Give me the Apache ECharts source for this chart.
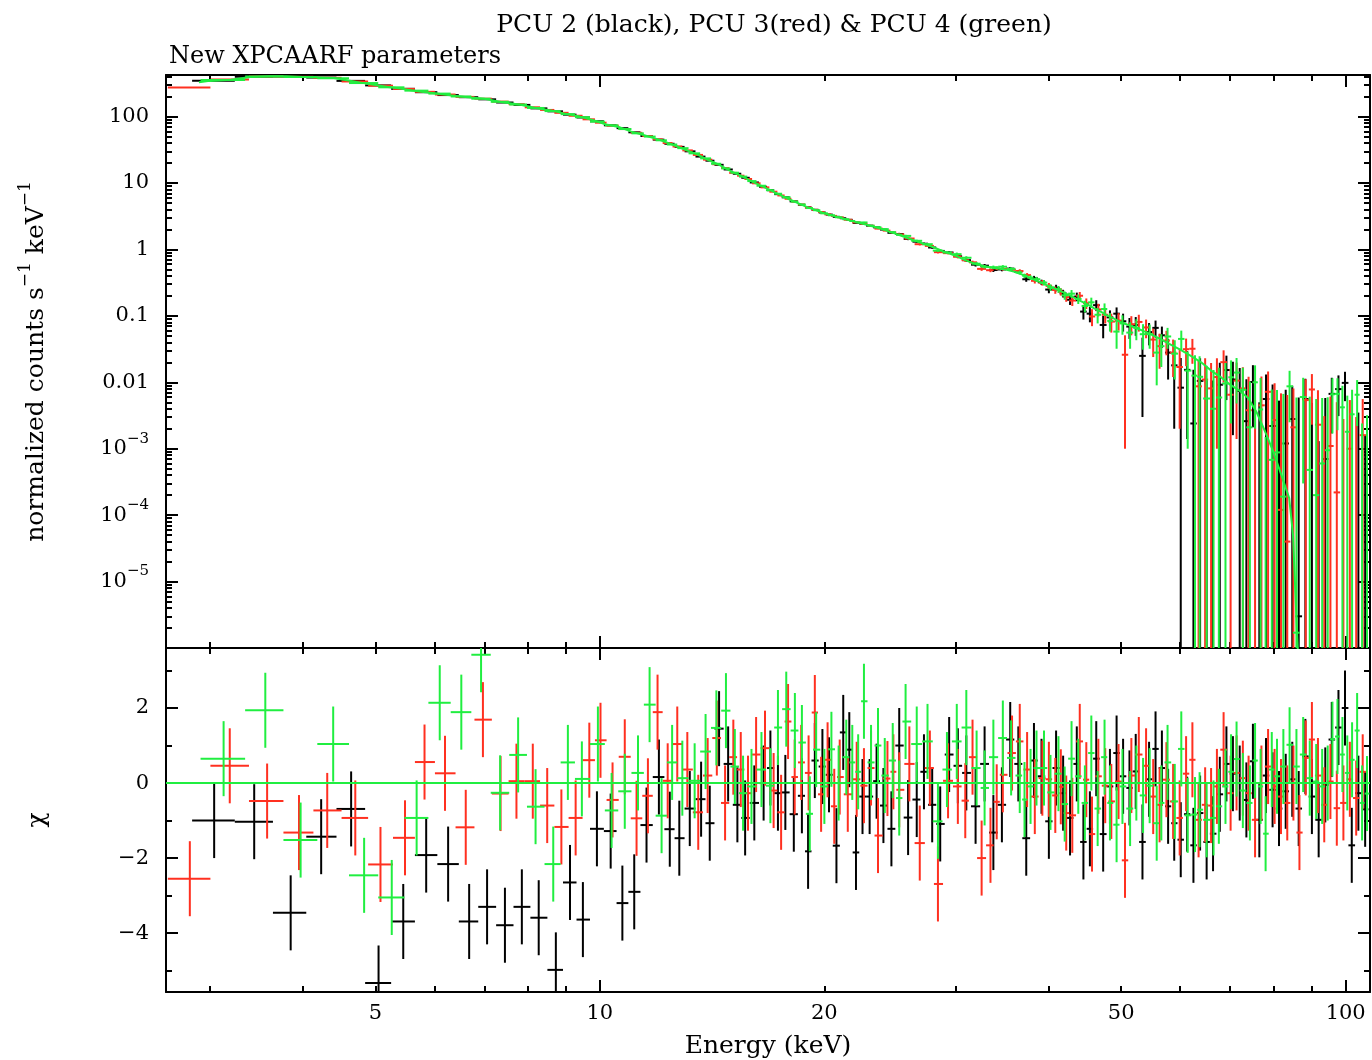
<!DOCTYPE html>
<html><head><meta charset="utf-8">
<script src="https://cdn.jsdelivr.net/npm/echarts@6.0.0/dist/echarts.min.js"></script>
<style>html,body{margin:0;padding:0;background:#fff}#chart{width:1372px;height:1060px}</style>
</head><body><div id="chart"></div>
<script>
// ---------------- DATA ----------------
// PCU 2 (black)
const energyBlack = [3.04,3.44,3.85,4.23,4.64,5.05,5.45,5.85,6.26,6.68,7.06,7.46,7.86,8.28,8.73,9.12,9.49,9.91,
10.34,10.72,11.12,11.55,12.0,12.41,12.78,13.2,13.67,14.04,14.45,14.86,15.29,15.66,16.11,16.58,16.93,17.33,17.73,18.2,18.66,19.02,19.42,19.88,20.29,
20.76,21.2,21.6,22.05,22.5,23.0,23.5,24.0,24.6,25.2,25.9,26.6,27.2,27.9,28.6,29.4,30.2,31.0,31.9,32.8,33.7,34.6,35.5,36.4,37.3,
38.2,39.1,40.0,40.9,41.8,42.7,43.6,44.5,45.4,46.3,47.3,48.3,49.3,50.3,51.3,52.3,53.4,54.5,55.6,56.7,57.8,58.9,60.1,61.3,62.5,
63.8,65.1,66.4,67.8,69.2,70.6,72.1,73.6,75.1,76.6,78.2,79.8,81.4,83.1,84.8,86.5,88.3,90.1,92.0,93.9,95.8,97.8,99.8,101.9,104.0,106.2];
const countsBlack = [348,397,402,387,345,295,262,233,211,196,182,163,150,133,120,107,97,85,
74,67,58,51,45,39,35,30,25,21.7,18.8,16,13.8,12,10.2,8.8,7.8,6.8,6.1,5.3,4.7,4.3,3.95,3.6,3.35,
3.1,2.95,2.79,2.51,2.44,2.28,2.15,1.99,1.78,1.71,1.44,1.31,1.22,1.07,0.95,0.9,0.79,0.69,0.59,0.57,0.49,0.5,0.515,0.46,0.356,
0.37,0.321,0.249,0.264,0.218,0.175,0.195,0.116,0.108,0.145,0.073,0.095,0.108,0.083,0.069,0.073,0.025,0.057,0.066,0.051,0.028,0.018,0.0083,0.0154,0.0024,
0.0105,-0.0013,-0.0006,0.0092,0.0153,0.011,0.0074,0.0026,0.0101,-0.0028,0.0056,0.0022,-0.0015,0.0012,0.0028,0.000003,0.0056,-0.0006,-0.004,0.0007,0.0067,0.0079,0.0098,-0.0068,-0.0007,-0.0024];
const errBlack = [2.1,2.4,2.4,2.3,2.1,1.8,1.6,1.4,1.3,1.2,1.1,1.0,0.9,0.8,0.7,0.65,0.6,0.5,
0.6,0.55,0.47,0.41,0.36,0.31,0.28,0.24,0.2,0.17,0.15,0.13,0.17,0.14,0.12,0.11,0.09,0.08,0.07,0.064,0.056,0.052,0.047,0.043,0.05,
0.062,0.059,0.055,0.051,0.049,0.046,0.043,0.04,0.036,0.067,0.06,0.053,0.049,0.044,0.039,0.035,0.047,0.041,0.037,0.034,0.032,0.031,0.03,0.03,0.03,
0.03,0.03,0.03,0.03,0.029,0.029,0.029,0.028,0.028,0.027,0.027,0.026,0.026,0.025,0.024,0.023,0.022,0.021,0.019,0.018,0.017,0.016,0.015,0.014,0.013,
0.0125,0.012,0.0112,0.0105,0.0099,0.0094,0.009,0.0085,0.008,0.0078,0.0075,0.0071,0.0068,0.0065,0.0061,0.0059,0.0057,0.0055,0.0053,0.0051,0.005,0.0048,0.0046,0.0044,0.0042,0.004];
const chiBlack = [-1.0,-1.03,-3.46,-1.43,-0.69,-5.33,-3.69,-1.92,-2.16,-3.69,-3.3,-3.79,-3.3,-3.59,-4.98,-2.65,-3.64,-1.22,
-1.28,-3.2,-2.9,-1.12,0.16,-1.23,-1.47,-0.68,-0.43,-1.07,1.45,0.51,-0.58,-0.93,-0.53,0.0,0.4,-0.27,-0.25,-0.83,-0.34,-1.82,0.6,0.44,0.22,
-1.67,1.35,0.89,-1.85,-0.36,-0.36,0.05,-0.6,-1.22,1.0,-0.92,-0.44,0.3,-0.58,-1.09,0.76,0.46,0.27,-0.62,0.51,-1.32,-0.58,1.16,0.51,-1.47,
0.6,0.18,-1.02,0.4,-0.27,-0.93,0.51,-1.57,-1.22,0.65,-1.36,-0.09,0.8,0.18,-0.13,0.31,-1.57,0.1,0.91,0.4,-0.62,-1.07,-1.51,-0.83,-1.66,
-0.8,-1.57,-1.35,-0.3,0.51,0.25,0.0,-0.45,0.58,-0.98,0.2,-0.18,-0.68,-0.22,0.1,-0.68,0.71,-0.36,-0.98,-0.05,1.16,1.48,2.0,-1.66,-0.27,-0.7];

// PCU 3 (red)
const energyRed = [2.82,3.19,3.58,3.95,4.31,4.70,5.08,5.48,5.82,6.2,6.61,6.97,7.36,7.73,8.13,8.5,8.88,9.28,9.68,10.02,10.4,10.8,11.2,11.6,11.95,12.33,12.7,
13.1,13.55,13.95,14.35,14.72,15.1,15.45,15.8,16.2,16.65,17.1,17.5,17.88,18.25,18.62,19.05,19.42,19.8,20.2,20.62,
20.97,21.5,22.1,22.6,23.1,23.6,24.3,24.75,25.2,26.0,26.85,27.7,28.4,29.3,30.2,30.9,31.6,32.5,33.4,34.05,34.7,35.7,36.56,37.4,
38.3,39.2,40.0,40.8,41.5,42.2,43.0,44.0,44.9,45.7,46.6,47.6,48.5,49.6,50.6,51.6,52.8,54.0,55.2,56.3,57.5,58.7,59.9,61.1,62.3,
63.5,64.8,66.0,67.2,68.6,70.1,71.4,72.8,74.1,75.6,77.1,78.7,80.3,81.9,83.5,85.1,86.7,88.4,90.1,91.8,93.6,95.4,97.3,99.3,101.3,103.3,105.4];
const countsRed = [275,362,402,397,384,338,292,261,236,215,198,186,168,154,138,126,114,103,91,81,73,65,57,51,45.5,40,35.5,
31,26.5,22.5,19.2,16.8,14.2,12.9,11.5,9.9,8.6,7.4,6.5,5.8,5.25,4.75,4.27,3.95,3.66,3.38,3.2,
3.05,2.8,2.56,2.43,2.27,2.06,1.92,1.8,1.68,1.46,1.2,1.13,0.91,0.88,0.78,0.69,0.64,0.51,0.487,0.52,0.51,0.494,0.473,0.411,
0.337,0.316,0.283,0.245,0.231,0.192,0.17,0.201,0.155,0.098,0.125,0.104,0.082,0.085,0.026,0.075,0.081,0.067,0.044,0.035,0.0425,0.028,0.017,0.0315,0.032,
0.0087,0.011,0.0081,0.012,0.0201,0.0065,0.0106,0.0081,0.0038,-0.0026,0.0045,0.0072,0.0027,0.00012,0.00004,0.0021,-0.006,0.0054,0.0078,0.0023,-0.002,0.0011,0.00022,-0.0018,0.001,-0.0012,0.0016];
const errRed = [1.7,2.2,2.4,2.4,2.3,2.0,1.8,1.6,1.4,1.3,1.2,1.1,1.0,0.92,0.83,0.76,0.68,0.62,0.55,0.5,0.58,0.52,0.46,0.41,0.36,0.32,0.28,
0.25,0.21,0.18,0.15,0.13,0.17,0.15,0.14,0.12,0.1,0.09,0.08,0.07,0.063,0.057,0.051,0.047,0.044,0.041,0.064,
0.061,0.056,0.051,0.049,0.045,0.042,0.038,0.036,0.067,0.058,0.051,0.045,0.039,0.035,0.047,0.041,0.038,0.034,0.032,0.031,0.03,0.03,0.03,0.03,
0.03,0.03,0.03,0.03,0.029,0.029,0.029,0.028,0.028,0.028,0.027,0.027,0.026,0.025,0.025,0.024,0.023,0.021,0.02,0.019,0.017,0.016,0.015,0.014,0.013,
0.0125,0.012,0.0115,0.011,0.0102,0.0095,0.0092,0.0088,0.0083,0.008,0.0077,0.0074,0.007,0.0067,0.0064,0.006,0.0059,0.0057,0.0055,0.0053,0.0051,0.005,0.0048,0.0046,0.0044,0.0042,0.004];
const chiRed = [-2.55,0.46,-0.48,-1.32,-0.73,-0.93,-2.17,-1.46,0.56,0.26,-1.18,1.69,-0.28,0.05,0.05,-0.6,-1.17,-0.93,0.61,1.14,-0.45,0.7,-0.94,-0.34,1.89,0.06,1.04,
0.36,-0.78,0.2,1.2,-0.53,0.69,0.36,-0.27,0.76,0.93,-0.2,-0.78,1.64,0.16,0.55,0.27,1.88,-0.3,0.62,-0.62,
0.16,-0.3,0.1,-0.07,0.4,-1.4,0.12,0.3,-0.18,0.51,-1.6,0.4,-2.69,0.06,-0.09,-0.47,0.69,-2.0,-1.66,-0.5,0.22,0.8,1.11,0.36,
-0.36,0.13,0.1,-0.33,-0.1,-0.8,-0.86,1.11,0.09,-1.36,0.18,-0.07,-0.49,0.04,-2.06,0.2,0.76,0.46,-0.36,-0.58,0.09,-0.49,-0.93,0.25,0.62,
-0.98,-0.58,-0.6,-0.09,0.89,-0.27,0.27,0.13,-0.27,-0.98,0.0,0.44,-0.09,-0.36,-0.53,0.0,-1.32,0.67,1.16,0.2,-0.58,0.04,-0.67,-0.53,0.1,-0.4,0.3];

// PCU 4 (green)
const energyGreen = [3.13,3.56,3.97,4.39,4.83,5.26,5.68,6.1,6.52,6.93,7.35,7.77,8.2,8.66,9.06,9.46,9.94,10.37,10.8,11.25,11.66,12.1,12.5,12.9,
13.4,13.86,14.33,14.76,15.17,15.56,15.97,16.47,16.93,17.33,17.78,18.26,18.66,19.12,19.5,20.0,20.44,
20.9,21.4,21.8,22.2,22.6,23.1,23.6,24.1,24.7,25.2,25.7,26.6,27.5,28.4,29.2,30.1,31.0,32.0,32.8,33.7,34.7,35.6,36.56,
37.1,37.8,38.5,39.4,40.2,41.2,42.0,42.9,43.8,44.7,45.6,46.5,47.5,48.3,49.3,50.2,51.4,52.4,53.5,54.6,55.8,56.6,57.7,59.0,60.2,61.4,62.8,
63.7,65.1,66.5,67.6,69.0,70.2,71.4,72.8,74.4,75.6,76.9,78.1,79.6,80.9,82.5,84.1,85.9,87.7,89.5,91.3,93.0,94.6,96.0,97.5,99.0,100.5,102.0,103.6,105.2,106.8];
const countsGreen = [355,402,396,378,320,276,246,222,201,186,167,152,135,121,109,98,84,74,65,56,50,44,38,33.5,
28,23.5,19.5,16.6,14.3,12.5,10.7,9.1,7.8,6.9,6.1,5.25,4.75,4.2,3.9,3.5,3.27,
3.05,2.85,2.68,2.56,2.55,2.28,2.16,2.02,1.82,1.66,1.6,1.35,1.2,0.96,0.9,0.85,0.75,0.61,0.55,0.54,0.55,0.51,0.45,
0.402,0.377,0.357,0.317,0.268,0.252,0.204,0.216,0.18,0.141,0.16,0.104,0.127,0.084,0.058,0.077,0.056,0.066,0.053,0.053,0.028,0.035,0.049,0.027,0.045,0.015,0.0126,
0.0121,0.0057,0.004,0.0059,0.0096,0.0119,0.014,0.0077,0.0021,0.01,0.0039,-0.006,0.00068,0.00088,0.00019,0.0087,0.0000017,0.006,0.00048,0.0002,0.0006,0.00095,0.0066,0.0067,0.0042,0.0018,0.0033,0.0065,-0.0018,-0.0008];
const errGreen = [2.1,2.4,2.4,2.3,1.9,1.7,1.5,1.3,1.2,1.1,1.0,0.9,0.8,0.73,0.65,0.59,0.5,0.59,0.52,0.45,0.4,0.35,0.3,0.27,
0.22,0.19,0.16,0.13,0.17,0.15,0.13,0.11,0.094,0.083,0.073,0.063,0.057,0.05,0.047,0.042,0.065,
0.061,0.057,0.054,0.051,0.049,0.046,0.043,0.04,0.036,0.066,0.063,0.054,0.047,0.04,0.036,0.048,0.041,0.036,0.033,0.032,0.031,0.03,0.03,
0.03,0.03,0.03,0.03,0.03,0.03,0.029,0.029,0.029,0.028,0.028,0.027,0.027,0.026,0.026,0.025,0.024,0.023,0.022,0.021,0.019,0.018,0.017,0.016,0.015,0.014,0.013,
0.0125,0.012,0.0113,0.0107,0.01,0.0095,0.0092,0.0088,0.0082,0.008,0.0077,0.0075,0.0071,0.0068,0.0065,0.0062,0.0059,0.0057,0.0056,0.0054,0.0052,0.005,0.0049,0.0048,0.0047,0.0045,0.0044,0.0043,0.0042,0.004];
const chiGreen = [0.65,1.94,-1.52,1.04,-2.46,-3.05,-0.93,2.14,1.89,3.42,-0.26,0.75,-0.63,-2.16,0.55,0.11,1.04,-0.73,-0.22,0.27,2.09,-0.87,0.55,0.13,
0.06,0.84,1.47,1.93,0.44,-0.27,-0.09,0.36,-0.07,1.48,1.97,1.4,1.08,-0.82,0.89,-0.09,0.9,
0.0,0.69,0.55,0.3,2.18,0.55,1.0,0.2,0.6,-0.4,1.64,1.04,1.11,-1.02,0.36,1.11,1.48,0.4,-0.13,0.69,1.2,0.67,0.2,
-0.44,-0.09,0.4,0.4,-0.25,0.25,-0.56,0.65,0.18,-0.53,0.8,-0.68,0.69,-0.53,-1.11,-0.09,-0.68,0.0,-0.33,-0.07,-1.07,-0.53,0.55,-0.49,0.91,-0.86,-0.84,
-0.71,-0.98,-0.93,-0.62,-0.09,0.3,0.64,-0.2,-0.53,0.6,-0.09,-1.35,0.36,0.18,0.44,1.02,0.44,0.76,0.13,0.04,-0.09,0.0,1.17,1.24,0.76,0.27,0.62,1.4,-0.53,-0.28];

// fitted model (drawn as a line over the spectra; falls off steeply above ~75 keV)
const modelE = [2.9,3.0,3.2,3.4,3.6,3.8,4.0,4.2,4.4,4.6,4.8,5.0,5.2,5.4,5.6,5.8,6.0,6.3,6.6,7.0,7.4,7.8,8.2,8.6,9.0,9.4,9.8,10.2,10.6,11,
11.5,12,12.5,13,13.5,14,14.5,15,15.5,16,16.5,17,17.5,18,18.5,19,19.5,20,21,22,23,24,25,26,27,28,29,30,31,32,
33,34,35,36,37,38,39,40,41,42,43,44,45,46,47,48,49,50,52,54,56,58,60,62,64,66,68,70,72,74,76,78,80,82,84,85,86,86.5];
const modelFlux = [330,345,360,395,404,404,395,388,380,350,322,300,280,265,248,235,225,210,198,185,165,152,135,124,110,100,88,76,70,60,
52,45,38,32,27,22,18.5,15,12.7,10.5,9.0,7.6,6.5,5.6,4.9,4.3,3.9,3.5,3.0,2.6,2.3,2.0,1.7,1.45,1.25,1.08,0.92,0.8,0.68,0.6,
0.55,0.52,0.5,0.46,0.41,0.36,0.32,0.28,0.25,0.22,0.195,0.17,0.15,0.13,0.115,0.1,0.09,0.08,0.068,0.057,0.047,0.038,0.031,0.025,0.02,0.015,0.012,0.0092,0.0075,0.0058,0.0035,0.0018,0.0009,0.0004,0.00018,0.00005,0.000002,0.0000005];

// tick values and labels
const xMajorTicks = [10, 100];
const xMinorTicks = [3, 4, 5, 6, 7, 8, 9, 20, 30, 40, 50, 60, 70, 80, 90];
const xTickLabels = [5, 10, 20, 50, 100];
const yLogLabels = [1e-5, 1e-4, 1e-3, 0.01, 0.1, 1, 10, 100];
const yChiLabels = [-4, -2, 0, 2];
const yChiMinor = [-5, -3, -1, 1, 3];
const chiErr = 1; // residuals in units of sigma

const titleText = 'PCU 2 (black), PCU 3(red) & PCU 4 (green)';
const subtitleText = 'New XPCAARF parameters';

// ---------------- STYLE / LAYOUT ----------------
const FONT = 'DejaVu Serif';
const INK = '#000000', RED = '#ff3020', GREEN = '#20ee40';
const X_MIN = 2.62, X_MAX = 107.8, Y1_MIN = 1e-6, Y1_MAX = 423, Y2_MIN = -5.57, Y2_MAX = 3.6;
const MAJ = 12, MINL = 6;

const yLogMinor = [];
for (let k = -6; k <= 2; k++) for (let m = 2; m <= 9; m++) {
  const v = Number((m * Math.pow(10, k)).toPrecision(3));
  if (v <= Y1_MAX) yLogMinor.push(v);
}

const supRich = { s: { fontFamily: FONT, fontSize: 15, color: INK, verticalAlign: 'top', padding: [0, 0, 20, 0] } };
const supRichName = { s: { fontFamily: FONT, fontSize: 17, color: INK, verticalAlign: 'top', padding: [0, 0, 22, 0] } };

function logLabel(v) {
  const k = Math.round(Math.log10(v));
  if (k >= -2) return String(v);
  return '10{s|\u2212' + (-k) + '}';
}

function ax(type, grid, pos, min, max, ticks, len, line) {
  const a = {
    type, gridIndex: grid, position: pos, min, max, silent: true,
    axisLine: { show: line, onZero: false, lineStyle: { color: INK, width: 2 } },
    axisTick: { show: true, inside: true, length: len, customValues: ticks, lineStyle: { color: INK, width: 2 } },
    axisLabel: { show: false }, splitLine: { show: false }, minorTick: { show: false }
  };
  if (type === 'log') a.logBase = 10;
  return a;
}

const xAxes = [
  ax('log', 0, 'bottom', X_MIN, X_MAX, xMajorTicks, MAJ, true),
  ax('log', 0, 'bottom', X_MIN, X_MAX, xMinorTicks, MINL, false),
  ax('log', 0, 'top', X_MIN, X_MAX, xMajorTicks, MAJ, true),
  ax('log', 0, 'top', X_MIN, X_MAX, xMinorTicks, MINL, false),
  ax('log', 1, 'bottom', X_MIN, X_MAX, xMajorTicks, MAJ, true),
  ax('log', 1, 'bottom', X_MIN, X_MAX, xMinorTicks, MINL, false),
  ax('log', 1, 'top', X_MIN, X_MAX, xMajorTicks, MAJ, true),
  ax('log', 1, 'top', X_MIN, X_MAX, xMinorTicks, MINL, false)
];
Object.assign(xAxes[4], {
  axisLabel: { show: true, customValues: xTickLabels, formatter: v => String(v), margin: 11,
    fontFamily: FONT, fontSize: 21, color: INK },
  name: 'Energy (keV)', nameLocation: 'middle', nameGap: 42,
  nameTextStyle: { fontFamily: FONT, fontSize: 25, color: INK }
});

const yAxes = [
  ax('log', 0, 'left', Y1_MIN, Y1_MAX, yLogLabels, MAJ, true),
  ax('log', 0, 'left', Y1_MIN, Y1_MAX, yLogMinor, MINL, false),
  ax('log', 0, 'right', Y1_MIN, Y1_MAX, yLogLabels, MAJ, true),
  ax('log', 0, 'right', Y1_MIN, Y1_MAX, yLogMinor, MINL, false),
  ax('value', 1, 'left', Y2_MIN, Y2_MAX, yChiLabels, MAJ, true),
  ax('value', 1, 'left', Y2_MIN, Y2_MAX, yChiMinor, MINL, false),
  ax('value', 1, 'right', Y2_MIN, Y2_MAX, yChiLabels, MAJ, true),
  ax('value', 1, 'right', Y2_MIN, Y2_MAX, yChiMinor, MINL, false)
];
Object.assign(yAxes[0], {
  axisLabel: { show: true, customValues: yLogLabels, formatter: logLabel, margin: 17,
    fontFamily: FONT, fontSize: 21, color: INK, rich: supRich },
  name: 'normalized counts s{s|\u22121} keV{s|\u22121}', nameLocation: 'middle', nameRotate: 90, nameGap: 110,
  nameTextStyle: { fontFamily: FONT, fontSize: 25, color: INK, rich: supRichName }
});
Object.assign(yAxes[4], {
  axisLabel: { show: true, customValues: yChiLabels, formatter: v => String(v).replace('-', '\u2212'), margin: 17,
    fontFamily: FONT, fontSize: 21, color: INK },
  name: '\u03c7', nameLocation: 'middle', nameRotate: 90, nameGap: 116,
  nameTextStyle: { fontFamily: FONT, fontSize: 25, color: INK }
});

function edgesOf(E, i) {
  const lo = i > 0 ? (E[i - 1] + E[i]) / 2 : E[i] - (E[1] - E[0]) / 2;
  const hi = i < E.length - 1 ? (E[i] + E[i + 1]) / 2 : E[i] + (E[i] - E[i - 1]) / 2;
  return [lo, hi];
}
function specItems(E, C, S) {
  return E.map((e, i) => { const [lo, hi] = edgesOf(E, i); return [e, lo, hi, C[i], C[i] - S[i], C[i] + S[i]]; });
}
function chiItems(E, X) {
  return E.map((e, i) => { const [lo, hi] = edgesOf(E, i); return [e, lo, hi, X[i], X[i] - chiErr, X[i] + chiErr]; });
}

function crossSeries(name, color, items, xi, yi, floor, z) {
  return {
    type: 'custom', name, xAxisIndex: xi, yAxisIndex: yi, clip: true, z, silent: true,
    encode: { x: 0, y: 3 },
    data: items,
    renderItem(params, api) {
      const e = api.value(0), lo = api.value(1), hi = api.value(2);
      const y = api.value(3), yl = api.value(4), yh = api.value(5);
      const style = { stroke: color, lineWidth: 2, fill: null };
      const ch = [];
      if (y > floor) {
        const a = api.coord([lo, y]), b = api.coord([hi, y]);
        ch.push({ type: 'line', shape: { x1: a[0], y1: a[1], x2: b[0], y2: b[1] }, style });
      }
      if (yh > floor) {
        const t = api.coord([e, yh]), bt = api.coord([e, Math.max(yl, floor)]);
        ch.push({ type: 'line', shape: { x1: t[0], y1: t[1], x2: bt[0], y2: bt[1] }, style });
      }
      return { type: 'group', children: ch };
    }
  };
}

const option = {
  animation: false,
  backgroundColor: '#ffffff',
  title: [
    { text: titleText, left: 769, top: 8, textAlign: 'center',
      textStyle: { fontFamily: FONT, fontSize: 25, fontWeight: 'normal', color: INK } },
    { text: subtitleText, left: 164, top: 40,
      textStyle: { fontFamily: FONT, fontSize: 24, fontWeight: 'normal', color: INK } }
  ],
  grid: [
    { left: 166, right: 2, top: 75, height: 573, containLabel: false, outerBoundsMode: 'none' },
    { left: 166, right: 2, top: 648, height: 344, containLabel: false, outerBoundsMode: 'none' }
  ],
  xAxis: xAxes,
  yAxis: yAxes,
  series: [
    crossSeries('PCU 2', INK, specItems(energyBlack, countsBlack, errBlack), 0, 0, Y1_MIN, 2),
    crossSeries('PCU 3', RED, specItems(energyRed, countsRed, errRed), 0, 0, Y1_MIN, 3),
    crossSeries('PCU 4', GREEN, specItems(energyGreen, countsGreen, errGreen), 0, 0, Y1_MIN, 4),
    { type: 'line', name: 'model', xAxisIndex: 0, yAxisIndex: 0, z: 5, silent: true, clip: true,
      data: modelE.map((e, i) => [e, modelFlux[i]]), showSymbol: false, symbol: 'none',
      lineStyle: { color: GREEN, width: 2 } },
    crossSeries('PCU 2 chi', INK, chiItems(energyBlack, chiBlack), 4, 4, -1e9, 2),
    crossSeries('PCU 3 chi', RED, chiItems(energyRed, chiRed), 4, 4, -1e9, 3),
    Object.assign(crossSeries('PCU 4 chi', GREEN, chiItems(energyGreen, chiGreen), 4, 4, -1e9, 4), {
      markLine: { silent: true, symbol: 'none', label: { show: false },
        lineStyle: { color: GREEN, width: 2, type: 'solid' }, data: [{ yAxis: 0 }] }
    })
  ]
};

const chart = echarts.init(document.getElementById('chart'), null, { renderer: 'canvas' });
chart.setOption(option);
</script>
</body></html>
